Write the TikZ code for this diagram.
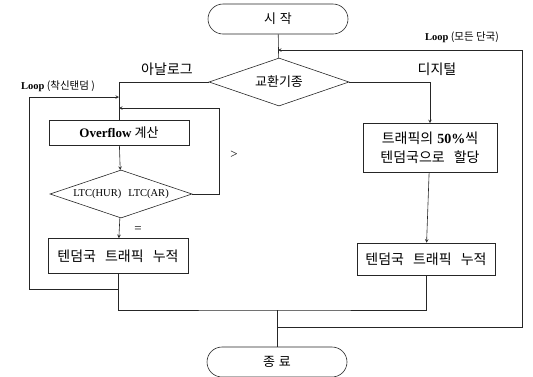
\documentclass[tikz,border=0pt]{standalone}
\usepackage{fontspec}
\setmainfont{Liberation Serif}
\newfontfamily\kr{Noto Sans CJK KR}
\usetikzlibrary{arrows.meta, positioning, shapes.geometric}

\tikzset{
  term/.style={draw, rounded corners=15pt, minimum width=140pt, minimum height=30pt,
    font=\kr\fontsize{13}{15}\selectfont},
  procbox/.style={draw, minimum width=140pt, inner sep=3pt, align=center,
    font=\kr\fontsize{14}{19}\selectfont},
  decide/.style={draw, diamond, aspect=3, inner sep=0pt, minimum width=140pt, minimum height=48pt},
  lbl/.style={font=\kr\fontsize{14}{16}\selectfont},
  looplbl/.style={font=\kr\fontsize{10.5}{12}\selectfont},
}

\begin{document}
\begin{tikzpicture}[x=1pt, y=-1pt, >=stealth, line width=0.6pt, draw=black!85]
  \useasboundingbox (0,0) rectangle (533,376);

  \node[term] (start) at (278,19) {시\hspace{4pt}작};
  \node[decide, font=\kr\fontsize{13}{15}\selectfont] (kind) at (279,82) {교환기종};

  \node[procbox, minimum height=25pt, font=\fontsize{13}{15}\selectfont] (ovf) at (119,133)
    {\textbf{Overflow} {\kr 계산}};
  \node[decide, minimum width=142pt, font=\fontsize{10.5}{12}\selectfont] (ltc) at (121,194)
    {LTC(HUR)\hspace{7pt}LTC(AR)};
  \node[procbox, minimum height=35pt] (accL) at (118,256)
    {텐덤국\hspace{9pt}트래픽\hspace{9pt}누적};

  \node[procbox, minimum width=134pt, minimum height=49pt] (share) at (430,148)
    {트래픽의\hspace{4pt}{\rmfamily\bfseries 50\%}씩\\텐덤국으로\hspace{9pt}할당};
  \node[procbox, minimum width=138pt, minimum height=32pt] (accR) at (426,259)
    {텐덤국\hspace{9pt}트래픽\hspace{9pt}누적};

  \node[term] (stop) at (277,362) {종\hspace{4pt}료};

  % labels
  \node[lbl] (analog) at (167,69) {아날로그};
  \node[lbl] (digital) at (437,69) {디지털};
  \node[font=\fontsize{13}{15}\selectfont] (gt) at (234,155) {>};
  \node[font=\fontsize{13}{15}\selectfont] (eq) at (138,230) {=};
  \node[looplbl] (loopL) at (58,86) {{\rmfamily\bfseries Loop} (착신탠덤 )};
  \node[looplbl] (loopR) at (462,37) {{\rmfamily\bfseries Loop} (모든 단국)};

  % junction points
  \coordinate (inTop) at (278,50);
  \coordinate (inA) at (119,97);
  \coordinate (inB) at (119,108);
  \coordinate (jL) at (118,289);
  \coordinate (bot) at (277,310);
  \coordinate (jR) at (277,327);

  % main flow
  \draw (start) -- (kind);
  \draw (kind.west) -| (ovf.north);
  \draw[->] (kind.east) -| (share.north);
  \draw[->] (ovf) -- (ltc);
  \draw[->] (ltc) -- (accL);
  \draw[->] (ltc.east) -| (219,108) -- (inB);
  \draw[->] (share) -- (accR);
  \draw (accL.south) |- (bot) -| (accR.south);
  \draw (bot) -- (stop);

  % loops
  \draw[->] (jL) -| (29,97) -- (inA);
  \draw[->] (jR) -| (522,50) -- (inTop);
\end{tikzpicture}
\end{document}
